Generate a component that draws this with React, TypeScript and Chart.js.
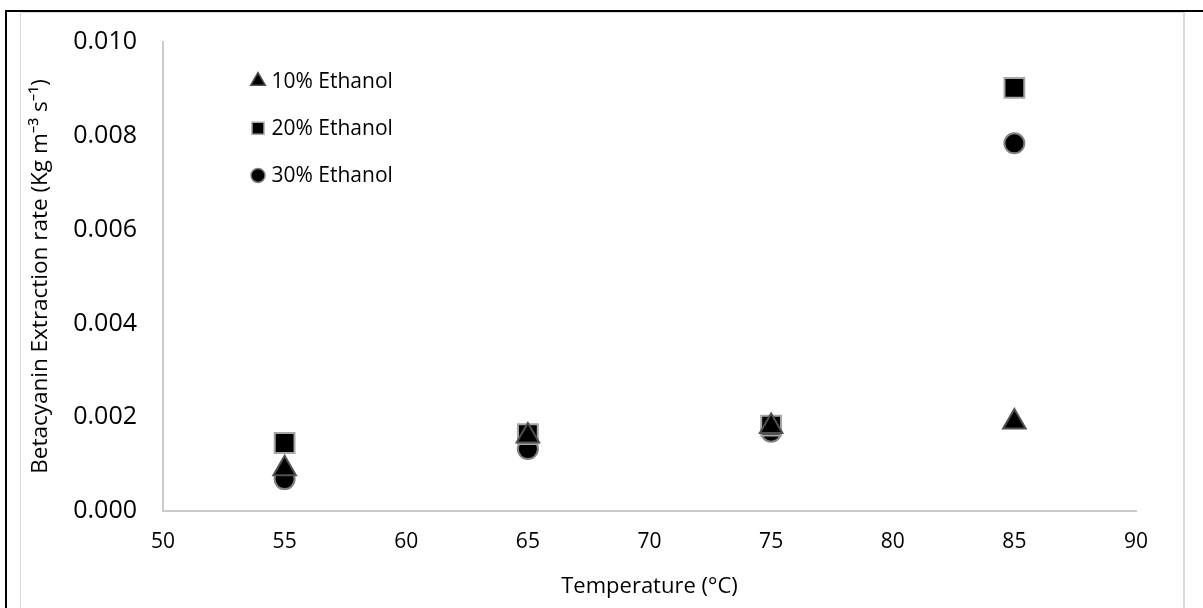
import React, { useEffect, useRef } from "react";
import { Chart, registerables } from "chart.js";
import { drawPoint } from "chart.js/helpers";

Chart.register(...registerables);

const temperatures = [55, 65, 75, 85];
const ethanol10 = [0.0009, 0.0016, 0.0018, 0.0019];
const ethanol20 = [0.00145, 0.00164, 0.00182, 0.00902];
const ethanol30 = [0.00068, 0.00132, 0.00169, 0.00784];
const seriesLabels = ["10% Ethanol", "20% Ethanol", "30% Ethanol"];
const xTickValues = [50, 55, 60, 65, 70, 75, 80, 85, 90];
const yTickValues = [0, 0.002, 0.004, 0.006, 0.008, 0.01];

const xTitle = "Temperature (°C)";
const yTitle = "Betacyanin Extraction rate (Kg m\u207B\u00B3 s\u207B\u00B9)";

const FONT = "'Open Sans', 'Noto Sans', sans-serif";

const pointStyles = ["triangle", "rect", "circle"];
const pointRadii = [13, 14, 10];
const legendRadii = [8.5, 8.5, 7];
const borderColors = ["#505050", "#a6a6a6", "#808080"];

const legendPlugin = {
  id: "insideLegend",
  afterDatasetsDraw(chart: any) {
    const { ctx, chartArea } = chart;
    chart.data.datasets.forEach((ds: any, i: number) => {
      const x = chartArea.left + 95;
      const y = chartArea.top + 39 + i * 47.2;
      ctx.save();
      ctx.fillStyle = "#000";
      ctx.strokeStyle = borderColors[i];
      ctx.lineWidth = 1.5;
      drawPoint(
        ctx,
        { pointStyle: pointStyles[i], radius: legendRadii[i], borderWidth: 1.5, rotation: 0 } as any,
        x,
        y
      );
      ctx.fillStyle = "#000";
      ctx.font = `21px ${FONT}`;
      ctx.textBaseline = "middle";
      ctx.textAlign = "left";
      ctx.fillText(ds.label, chartArea.left + 108.5, y + 1);
      ctx.restore();
    });
  },
};

export default function App() {
  const ref = useRef<HTMLCanvasElement | null>(null);

  useEffect(() => {
    if (!ref.current) return;
    const series = [ethanol10, ethanol20, ethanol30];
    const chart = new Chart(ref.current, {
      type: "scatter",
      data: {
        datasets: series.map((vals, i) => ({
          label: seriesLabels[i],
          data: temperatures.map((t, j) => ({ x: t, y: vals[j] })),
          pointStyle: pointStyles[i] as any,
          pointRadius: pointRadii[i],
          pointHoverRadius: pointRadii[i],
          backgroundColor: "#000",
          borderColor: borderColors[i],
          pointBorderWidth: 2,
          showLine: false,
        })),
      },
      options: {
        responsive: false,
        animation: false,
        layout: { padding: { top: 29, right: 49, left: 0, bottom: 0 } },
        plugins: {
          legend: { display: false },
          tooltip: { enabled: false },
        },
        scales: {
          x: {
            type: "linear",
            min: 50,
            max: 90,
            afterFit: (s: any) => {
              s.height = 97;
              s.paddingLeft = 0;
              s.paddingRight = 0;
            },
            afterBuildTicks: (s: any) => {
              s.ticks = xTickValues.map((v) => ({ value: v }));
            },
            grid: { display: false, drawTicks: false },
            border: { display: true, color: "#cbcbcb", width: 2 },
            ticks: {
              padding: 18,
              color: "#000",
              font: { family: FONT, size: 21 },
              callback: (v: any) => String(v),
            },
            title: {
              display: true,
              text: xTitle,
              color: "#000",
              font: { family: FONT, size: 22 },
              padding: { top: 0, bottom: 8 },
            },
          },
          y: {
            type: "linear",
            min: 0,
            max: 0.01,
            afterFit: (s: any) => {
              s.width = 142;
              s.paddingTop = 0;
              s.paddingBottom = 0;
            },
            afterBuildTicks: (s: any) => {
              s.ticks = yTickValues.map((v) => ({ value: v }));
            },
            grid: { display: false, drawTicks: false },
            border: { display: true, color: "#cbcbcb", width: 2 },
            ticks: {
              padding: 26,
              color: "#000",
              font: { family: FONT, size: 25 },
              callback: (v: any) => Number(v).toFixed(3),
            },
            title: {
              display: true,
              text: yTitle,
              color: "#000",
              font: { family: FONT, size: 22.5 },
              padding: { top: 6, bottom: 0 },
            },
          },
        },
      },
      plugins: [legendPlugin],
    });
    return () => chart.destroy();
  }, []);

  return (
    <div
      style={{
        position: "fixed",
        left: 0,
        top: 0,
        width: 1203,
        height: 608,
        background: "#fff",
        overflow: "hidden",
      }}
    >
      <div style={{ position: "absolute", left: 5, top: 10, width: 1198, height: 2, background: "#000" }} />
      <div style={{ position: "absolute", left: 5, top: 10, width: 2, height: 598, background: "#000" }} />
      <div
        style={{
          position: "absolute",
          left: 20,
          top: 12,
          width: 1165,
          height: 610,
          borderLeft: "1px solid #d9d9d9",
          borderTop: "1px solid #d9d9d9",
          borderRight: "2px solid #d9d9d9",
          boxSizing: "border-box",
        }}
      />
      <canvas
        ref={ref}
        width={1164}
        height={595}
        style={{ position: "absolute", left: 21, top: 13, width: 1164, height: 595 }}
      />
    </div>
  );
}
